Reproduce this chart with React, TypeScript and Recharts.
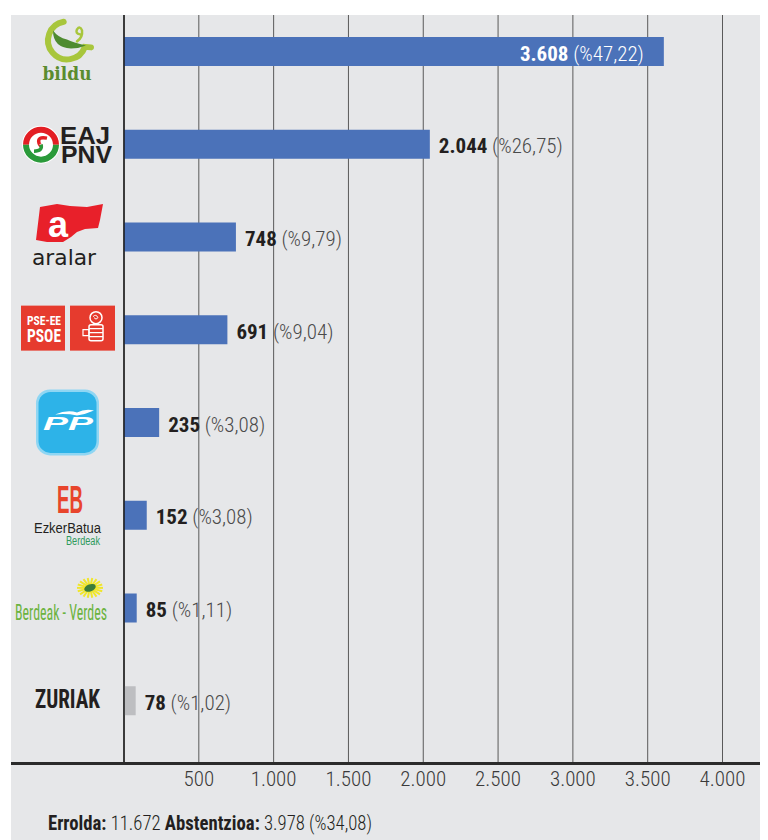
import React from 'react';
import { BarChart, Bar, XAxis, YAxis, CartesianGrid, Cell, LabelList } from 'recharts';

// ---------- data ----------
const parties = ['bildu', 'EAJ-PNV', 'aralar', 'PSE-EE PSOE', 'PP', 'EzkerBatua Berdeak', 'Berdeak - Verdes', 'ZURIAK'];
const votes = [3608, 2044, 748, 691, 235, 152, 85, 78];
const percents = ['47,22', '26,75', '9,79', '9,04', '3,08', '3,08', '1,11', '1,02'];
const xTicks = [500, 1000, 1500, 2000, 2500, 3000, 3500, 4000];
const footerLabels = ['Errolda:', 'Abstentzioa:'];
const footerValues = [11672, 3978];
const abstentionPct = '34,08';

const fmt = (n: number) => String(n).replace(/\B(?=(\d{3})+(?!\d))/g, '.');

const data = parties.map((name, i) => ({ name, votes: votes[i], idx: i }));

// ---------- styles ----------
const FONT = "'Roboto Condensed','Liberation Sans Narrow','Arial Narrow','DejaVu Sans Condensed',sans-serif";
const BLUE = '#4b72b9';
const GRAY_BAR = '#bdbec1';
const BG = '#e6e7e9';
const LOGO_CX = 67;

const Logo = ({ name }: { name: string }) => {
  switch (name) {
    case 'bildu':
      return (
        <g>
          <path d="M -3.3 -29.7 A 19 19 0 1 0 17.9 -4.5 L 24 -4" fill="none" stroke="#a8c63c" strokeWidth={6} strokeLinecap="round" />
          <path d="M 10 -10 Q 16 -14 15 -21 Q 13 -26 10 -22 Q 8 -18 13 -17" fill="none" stroke="#a8c63c" strokeWidth={2.5} strokeLinecap="round" />
          <path d="M -14 -21 Q -14 -4 4 -3 Q 12 -3 19 -6 Q 6 -9 0 -12 Q -9 -14 -14 -21 Z" fill="#4e8b2f" />
          <text x={0} y={28.5} textAnchor="middle" fontFamily="'DejaVu Serif',serif" fontWeight="bold" fontSize={19} fill="#5b8c2f" textLength={49} lengthAdjust="spacingAndGlyphs">bildu</text>
        </g>
      );
    case 'EAJ-PNV':
      return (
        <g>
          <circle cx={-26} cy={0.5} r={19} fill="#fff" />
          <path d="M -44 0.5 A 18 18 0 0 1 -8 0.5 L -14 0.5 A 12 12 0 0 0 -38 0.5 Z" fill="#e31e24" />
          <path d="M -44 0.5 A 18 18 0 0 0 -8 0.5 L -14 0.5 A 12 12 0 0 1 -38 0.5 Z" fill="#2a9a3a" />
          <path d="M -20 -6 Q -30 -8 -28 -1 Q -26 3 -26 0.5" fill="none" stroke="#e31e24" strokeWidth={3.5} />
          <path d="M -26 0.5 Q -24 7 -33 7" fill="none" stroke="#2a9a3a" strokeWidth={3.5} />
          <text x={-7} y={-0.5} fontFamily="'Liberation Sans',Arial,sans-serif" fontWeight="bold" fontSize={24} fill="#231f20" textLength={50} lengthAdjust="spacingAndGlyphs">EAJ</text>
          <text x={-6} y={18.5} fontFamily="'Liberation Sans',Arial,sans-serif" fontWeight="bold" fontSize={24} fill="#231f20" textLength={51} lengthAdjust="spacingAndGlyphs">PNV</text>
        </g>
      );
    case 'aralar':
      return (
        <g>
          <path d="M -27 -30 L -10 -33 L 3 -31 L 20 -30 L 36 -33 L 33 -17 L 31 -9 L 18 -8 L 10 -5 L 4 0 L -4 5 L -20 5 L -31 3 Z" fill="#e8202a" />
          <text x={-9} y={0} textAnchor="middle" fontFamily="'Liberation Sans',Arial,sans-serif" fontWeight="bold" fontSize={36} fill="#fff">a</text>
          <text x={-3} y={28} textAnchor="middle" fontFamily="'DejaVu Sans',sans-serif" fontSize={22} fill="#231f20" textLength={64} lengthAdjust="spacingAndGlyphs">aralar</text>
        </g>
      );
    case 'PSE-EE PSOE':
      return (
        <g>
          <rect x={-46} y={-24} width={44} height={45} fill="#e63b2e" />
          <rect x={3} y={-24} width={45} height={45} fill="#e63b2e" />
          <text x={-40} y={-4.6} fontFamily={FONT} fontWeight="bold" fontSize={12} fill="#fff" textLength={34} lengthAdjust="spacingAndGlyphs">PSE-EE</text>
          <text x={-40} y={12.4} fontFamily={FONT} fontWeight="bold" fontSize={19} fill="#fff" textLength={34} lengthAdjust="spacingAndGlyphs">PSOE</text>
          <circle cx={29} cy={-12} r={6} fill="none" stroke="#fff" strokeWidth={1.5} />
          <path d="M 26 -13 q 3 -3 5 1 q -2 3 -4 0" fill="none" stroke="#fff" strokeWidth={1} />
          <rect x={22} y={-5} width={14} height={16} rx={2} fill="none" stroke="#fff" strokeWidth={1.5} />
          <path d="M 22 -1 H 36 M 22 3 H 36 M 22 7 H 36 M 16 0 H 22 V 6 H 16 Z" fill="none" stroke="#fff" strokeWidth={1.2} />
        </g>
      );
    case 'PP':
      return (
        <g>
          <rect x={-31} y={-33} width={63} height={66} rx={14} fill="#8fd6f3" />
          <rect x={-28.5} y={-30.5} width={58} height={61} rx={12} fill="#2db3e8" />
          <path d="M -12 -8 Q 0 -13 10 -10 Q 18 -14 27 -12 Q 18 -8 10 -7 Q 0 -9 -12 -8 Z" fill="#fff" />
          <text x={1} y={8} textAnchor="middle" fontFamily="'Liberation Sans',Arial,sans-serif" fontWeight="bold" fontStyle="italic" fontSize={19} fill="#fff" textLength={50} lengthAdjust="spacingAndGlyphs">PP</text>
        </g>
      );
    case 'EzkerBatua Berdeak':
      return (
        <g>
          <text x={-10} y={-2} fontFamily="'Liberation Sans',Arial,sans-serif" fontWeight="bold" fontSize={38} fill="#e8452c" textLength={26} lengthAdjust="spacingAndGlyphs">EB</text>
          <text x={-33} y={18} fontFamily="'Liberation Sans',Arial,sans-serif" fontSize={15} fill="#231f20" textLength={67} lengthAdjust="spacingAndGlyphs">EzkerBatua</text>
          <text x={-1} y={30} fontFamily="'Liberation Sans',Arial,sans-serif" fontSize={12} fill="#2f9a5c" textLength={34} lengthAdjust="spacingAndGlyphs">Berdeak</text>
        </g>
      );
    case 'Berdeak - Verdes': {
      const rays = Array.from({ length: 18 }, (_, k) => (k * Math.PI * 2) / 18);
      return (
        <g>
          <g transform="translate(23,-20)">
            {rays.map((a, k) => (
              <line key={k} x1={Math.cos(a) * 4} y1={Math.sin(a) * 3} x2={Math.cos(a) * 13} y2={Math.sin(a) * 10} stroke="#f0e62b" strokeWidth={2} />
            ))}
            <ellipse cx={0} cy={0} rx={6} ry={3.5} transform="rotate(-20)" fill="#3c7d3a" />
          </g>
          <text x={-52} y={12} fontFamily={FONT} fontSize={22} fill="#6cb33f" textLength={92} lengthAdjust="spacingAndGlyphs">Berdeak - Verdes</text>
        </g>
      );
    }
    case 'ZURIAK':
      return (
        <text x={-32} y={7.5} fontFamily={FONT} fontWeight="bold" fontSize={25} fill="#231f20" textLength={65} lengthAdjust="spacingAndGlyphs">ZURIAK</text>
      );
    default:
      return null;
  }
};

const YTick = (props: any) => {
  const { y, payload } = props;
  return (
    <g transform={`translate(${LOGO_CX}, ${y})`}>
      <Logo name={payload.value} />
    </g>
  );
};

const XTick = (props: any) => {
  const { x, y, payload } = props;
  return (
    <text x={x} y={y + 16} textAnchor="middle" fontFamily={FONT} fontWeight={300} fontSize={21} fill="#3a3a3a">
      {fmt(payload.value)}
    </text>
  );
};

const ValueLabel = (props: any) => {
  const vb = props.viewBox || {};
  const x = Number(props.x ?? vb.x);
  const y = Number(props.y ?? vb.y);
  const width = Number(props.width ?? vb.width);
  const height = Number(props.height ?? vb.height);
  const i = Number(props.value);
  const inside = i === 0;
  const ty = y + height / 2 + 9;
  const tx = inside ? x + width - 20 : x + width + 9;
  return (
    <text x={tx} y={ty} textAnchor={inside ? 'end' : 'start'} fontFamily={FONT} fontSize={21} fill={inside ? '#fff' : '#231f20'}>
      <tspan fontWeight="bold">{fmt(votes[i])}</tspan>
      <tspan fontWeight={300} fill={inside ? '#fff' : '#4a4a4a'}>{` (%${percents[i]})`}</tspan>
    </text>
  );
};

export default function App() {
  return (
    <div style={{ position: 'relative', width: 768, height: 840, background: '#fff', overflow: 'hidden' }}>
      <style>{`body{margin:0}`}</style>
      <div style={{ position: 'absolute', left: 11, top: 15, width: 749, height: 825, background: BG }} />
      <div style={{ position: 'absolute', left: 0, top: 0 }}>
        <BarChart width={768} height={840} data={data} layout="vertical" margin={{ top: 15, right: 45.5, bottom: 48, left: 11 }}>
          <CartesianGrid horizontal={false} vertical stroke="#5a5a5a" strokeWidth={1} />
          <XAxis type="number" domain={[0, 4000]} ticks={xTicks} interval={0} axisLine={false} tickLine={false} height={30} tick={<XTick />} allowDataOverflow />
          <YAxis type="category" dataKey="name" width={113} interval={0} axisLine={{ stroke: '#1a1a1a', strokeWidth: 1.5 }} tickLine={false} tick={<YTick />} padding={{ top: -10, bottom: 15 }} />
          <Bar dataKey="votes" barSize={29} isAnimationActive={false}>
            {data.map((d) => (
              <Cell key={d.name} fill={d.name === 'ZURIAK' ? GRAY_BAR : BLUE} />
            ))}
            <LabelList dataKey="idx" content={<ValueLabel />} />
          </Bar>
        </BarChart>
      </div>
      <div style={{ position: 'absolute', left: 11, top: 762, width: 749, height: 2.5, background: '#2b2b2b' }} />
      <svg style={{ position: 'absolute', left: 0, top: 800 }} width={768} height={40}>
        <text x={48} y={30} fontFamily={FONT} fontSize={20} fill="#231f20" textLength={324} lengthAdjust="spacingAndGlyphs">
          <tspan fontWeight="bold">{footerLabels[0]}</tspan>
          <tspan fontWeight={300}>{` ${fmt(footerValues[0])} `}</tspan>
          <tspan fontWeight="bold">{footerLabels[1]}</tspan>
          <tspan fontWeight={300}>{` ${fmt(footerValues[1])} (%${abstentionPct})`}</tspan>
        </text>
      </svg>
    </div>
  );
}
